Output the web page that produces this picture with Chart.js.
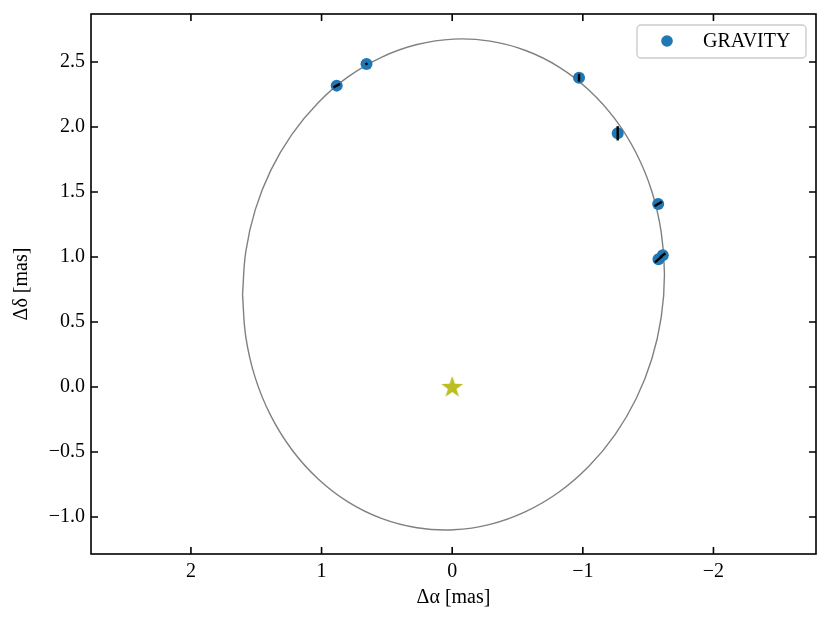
<!DOCTYPE html>
<html>
<head>
<meta charset="utf-8">
<script src="https://cdn.jsdelivr.net/npm/chart.js@4/dist/chart.umd.min.js"></script>
<style>
  body { margin: 0; background: #fff; }
</style>
</head>
<body>
<canvas id="orbitChart" width="831" height="623"></canvas>
<script>
// GRAVITY astrometry (mas)
const gravX = [0.884, 0.656, -0.971, -1.267, -1.577, -1.579, -1.612];
const gravY = [2.318, 2.485, 2.379, 1.951, 1.408, 0.982, 1.013];
// error bar half-vectors (mas)
const errDx = [-0.025, -0.008, 0.0, 0.0, -0.028, -0.027, -0.02];
const errDy = [0.013, 0.005, 0.03, 0.055, 0.017, 0.023, 0.015];

// orbit curve
const orbitX = [1.605, 1.580, 1.508, 1.389, 1.227, 1.028, 0.798, 0.542, 0.270, -0.010, -0.290, -0.562, -0.818, -1.048, -1.247, -1.409, -1.528, -1.600, -1.625, -1.600, -1.528, -1.409, -1.247, -1.048, -0.818, -0.562, -0.290, -0.010, 0.270, 0.542, 0.798, 1.028, 1.227, 1.389, 1.508, 1.580, 1.605];
const orbitY = [0.712, 1.041, 1.362, 1.666, 1.943, 2.185, 2.385, 2.536, 2.634, 2.676, 2.660, 2.588, 2.461, 2.283, 2.060, 1.798, 1.506, 1.191, 0.865, 0.536, 0.215, -0.089, -0.366, -0.608, -0.808, -0.959, -1.057, -1.099, -1.083, -1.011, -0.884, -0.706, -0.483, -0.221, 0.072, 0.386, 0.712];

const starX = [0];
const starY = [0];

const legendLabel = 'GRAVITY';
const xTitle = 'Δα [mas]';
const yTitle = 'Δδ [mas]';

const FONT = "'Liberation Serif', 'Times New Roman', serif";

function minus(s) {
    return s.replace('-', '\u2212');
}

// filled five-point star marker
function makeStar(color) {
    const c = document.createElement('canvas');
    c.width = 28;
    c.height = 28;
    const g = c.getContext('2d');
    g.translate(14, 14.5);
    g.beginPath();
    for (let i = 0; i < 10; i++) {
        const r = i % 2 === 0 ? 11.5 : 4.5;
        const a = -Math.PI / 2 + i * Math.PI / 5;
        g.lineTo(r * Math.cos(a), r * Math.sin(a));
    }
    g.closePath();
    g.fillStyle = color;
    g.fill();
    return c;
}

const frameTicks = {
    id: 'frameTicks',
    afterDatasetsDraw(chart) {
        const ctx = chart.ctx;
        const xs = chart.scales.x;
        const ys = chart.scales.y;
        ctx.save();
        ctx.strokeStyle = '#000';
        ctx.lineWidth = 2.4;
        gravX.forEach((gx, i) => {
            ctx.beginPath();
            ctx.moveTo(xs.getPixelForValue(gx - errDx[i]), ys.getPixelForValue(gravY[i] - errDy[i]));
            ctx.lineTo(xs.getPixelForValue(gx + errDx[i]), ys.getPixelForValue(gravY[i] + errDy[i]));
            ctx.stroke();
        });
        ctx.restore();
    },
    afterDraw(chart) {
        const ctx = chart.ctx;
        const a = chart.chartArea;
        const xs = chart.scales.x;
        const ys = chart.scales.y;
        const tl = 7;
        ctx.save();
        ctx.strokeStyle = '#000';
        ctx.lineWidth = 1.6;
        ctx.strokeRect(a.left, a.top, a.right - a.left, a.bottom - a.top);
        ctx.beginPath();
        xs.ticks.forEach(t => {
            const px = xs.getPixelForValue(t.value);
            ctx.moveTo(px, a.bottom); ctx.lineTo(px, a.bottom - tl);
            ctx.moveTo(px, a.top); ctx.lineTo(px, a.top + tl);
        });
        ys.ticks.forEach(t => {
            const py = ys.getPixelForValue(t.value);
            ctx.moveTo(a.left, py); ctx.lineTo(a.left + tl, py);
            ctx.moveTo(a.right, py); ctx.lineTo(a.right - tl, py);
        });
        ctx.stroke();

        // legend box, upper right inside the axes
        const bx = a.right - 179, by = a.top + 11, bw = 169, bh = 33;
        ctx.beginPath();
        ctx.roundRect(bx, by, bw, bh, 4);
        ctx.fillStyle = 'rgba(255,255,255,0.8)';
        ctx.fill();
        ctx.strokeStyle = '#cccccc';
        ctx.lineWidth = 1.4;
        ctx.stroke();
        ctx.beginPath();
        ctx.arc(bx + 30, by + 16, 5.8, 0, Math.PI * 2);
        ctx.fillStyle = '#1f77b4';
        ctx.fill();
        ctx.fillStyle = '#000';
        ctx.font = '20px ' + FONT;
        ctx.textBaseline = 'middle';
        ctx.fillText(legendLabel, bx + 66, by + 17);
        ctx.restore();
    }
};

new Chart(document.getElementById('orbitChart'), {
    type: 'scatter',
    data: {
        datasets: [
            {
                label: legendLabel,
                data: gravX.map((x, i) => ({ x: x, y: gravY[i] })),
                backgroundColor: '#1f77b4',
                borderColor: '#1f77b4',
                pointRadius: 6,
                borderWidth: 0
            },
            {
                label: 'star',
                data: starX.map((x, i) => ({ x: x, y: starY[i] })),
                pointStyle: makeStar('#bcbd22'),
                pointRadius: 12
            },
            {
                label: 'orbit',
                data: orbitX.map((x, i) => ({ x: x, y: orbitY[i] })),
                showLine: true,
                borderColor: '#808080',
                borderWidth: 1.4,
                pointRadius: 0,
                tension: 0.4,
                fill: false
            }
        ]
    },
    options: {
        responsive: false,
        animation: false,
        devicePixelRatio: 1,
        layout: { padding: { top: 14, right: 15, left: 0, bottom: 0 } },
        plugins: {
            legend: { display: false },
            tooltip: { enabled: false }
        },
        scales: {
            x: {
                type: 'linear',
                reverse: true,
                min: -2.785,
                max: 2.765,
                afterFit: s => { s.height = 69; s.paddingLeft = 0; s.paddingRight = 0; },
                grid: { display: false, drawTicks: false },
                border: { display: false },
                ticks: {
                    stepSize: 1,
                    includeBounds: false,
                    padding: 6,
                    color: '#000',
                    font: { family: FONT, size: 20 },
                    callback: v => minus(String(Math.round(v)))
                },
                title: {
                    display: true,
                    text: xTitle,
                    color: '#000',
                    font: { family: FONT, size: 20 },
                    padding: { bottom: 13 }
                }
            },
            y: {
                type: 'linear',
                min: -1.285,
                max: 2.869,
                afterFit: s => { s.width = 91; s.paddingTop = 0; s.paddingBottom = 0; },
                grid: { display: false, drawTicks: false },
                border: { display: false },
                ticks: {
                    stepSize: 0.5,
                    includeBounds: false,
                    padding: 6,
                    color: '#000',
                    font: { family: FONT, size: 20 },
                    callback: v => minus(v.toFixed(1))
                },
                title: {
                    display: true,
                    text: yTitle,
                    color: '#000',
                    font: { family: FONT, size: 20 },
                    padding: { top: 10 }
                }
            }
        }
    },
    plugins: [frameTicks]
});
</script>
</body>
</html>
